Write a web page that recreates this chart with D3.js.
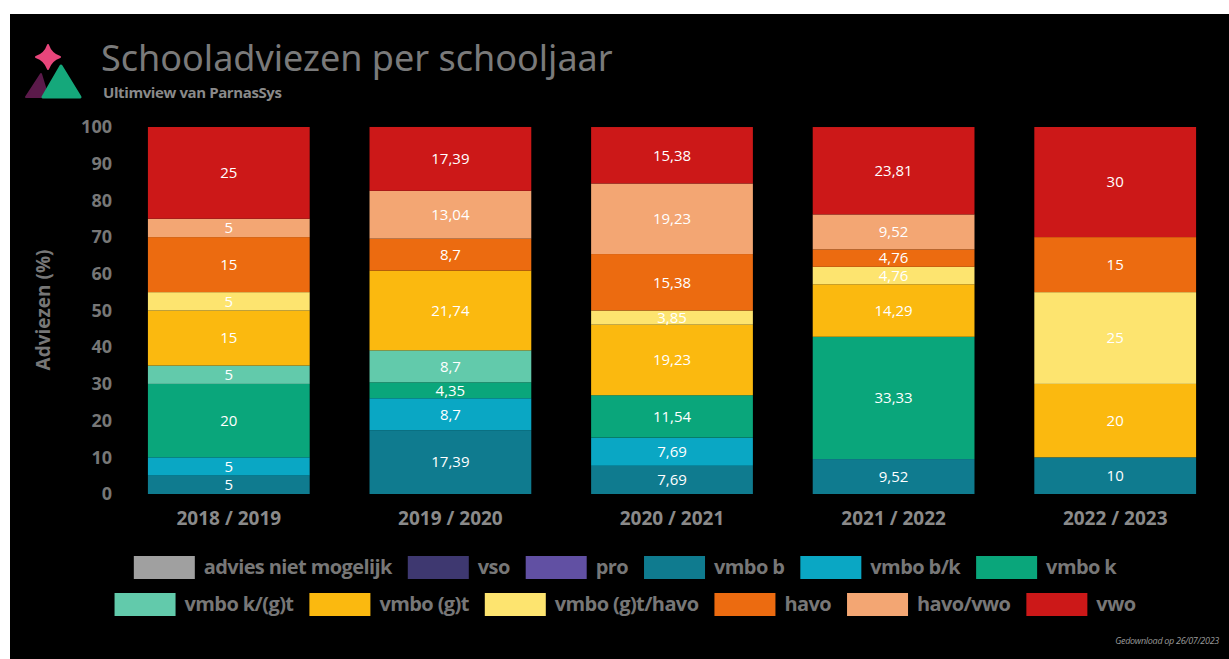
<!DOCTYPE html>
<html lang="nl">
<head>
<meta charset="UTF-8">
<title>Schooladviezen per schooljaar</title>
<script src="https://d3js.org/d3.v7.min.js"></script>
<style>
  html, body { margin: 0; padding: 0; background: #fff; }
  svg { display: block; }
  text { font-family: "Open Sans", "Noto Sans", sans-serif; }
</style>
</head>
<body>
<script>
  // schooljaren
  var years = ["2018 / 2019", "2019 / 2020", "2020 / 2021", "2021 / 2022", "2022 / 2023"];

  // adviestypen, van onder naar boven gestapeld
  var categories = ["advies niet mogelijk", "vso", "pro", "vmbo b", "vmbo b/k", "vmbo k",
                    "vmbo k/(g)t", "vmbo (g)t", "vmbo (g)t/havo", "havo", "havo/vwo", "vwo"];
  var colors = ["#a0a0a0", "#3e3870", "#6150a3", "#0f7b8f", "#0aa7c4", "#0aa67b",
                "#62caab", "#fbb90f", "#fde46f", "#ec6b10", "#f3a673", "#cc1818"];

  // percentages per jaar, zelfde volgorde als categories
  var v2018 = [0, 0, 0, 5, 5, 20, 5, 15, 5, 15, 5, 25];
  var v2019 = [0, 0, 0, 17.39, 8.7, 4.35, 8.7, 21.74, 0, 8.7, 13.04, 17.39];
  var v2020 = [0, 0, 0, 7.69, 7.69, 11.54, 0, 19.23, 3.85, 15.38, 19.23, 15.38];
  var v2021 = [0, 0, 0, 9.52, 0, 33.33, 0, 14.29, 4.76, 4.76, 9.52, 23.81];
  var v2022 = [0, 0, 0, 10, 0, 0, 0, 20, 25, 15, 0, 30];
  var values = [v2018, v2019, v2020, v2021, v2022];

  var yTicks = [0, 10, 20, 30, 40, 50, 60, 70, 80, 90, 100];

  var W = 1229, H = 659;
  var svg = d3.select("body").append("svg").attr("width", W).attr("height", H);

  // zwart paneel
  svg.append("rect").attr("x", 10).attr("y", 14).attr("width", W - 10).attr("height", H - 14)
    .attr("fill", "#000");

  // logo
  var logo = svg.append("g");
  logo.append("path").attr("d", "M26,97 L41,74 L48,97 Z").attr("fill", "#5b1a4a")
    .attr("stroke", "#5b1a4a").attr("stroke-width", 2).attr("stroke-linejoin", "round");
  logo.append("path").attr("d", "M43,97 L61,66 L80,97 Z").attr("fill", "#15a87b")
    .attr("stroke", "#15a87b").attr("stroke-width", 3).attr("stroke-linejoin", "round");
  logo.append("path").attr("d", "M48,45 Q51,54 60,57 Q51,60 48,69 Q45,60 36,57 Q45,54 48,45 Z")
    .attr("fill", "#e8467b").attr("stroke", "#e8467b").attr("stroke-width", 2)
    .attr("stroke-linejoin", "round");

  svg.append("text").attr("x", 101).attr("y", 71)
    .attr("fill", "#7a7a7a").style("font-size", "36px").style("font-family", "'Noto Sans', sans-serif")
    .text("Schooladviezen per schooljaar");
  svg.append("text").attr("x", 103).attr("y", 98)
    .attr("fill", "#8a8a8a").style("font-size", "15px").style("font-weight", "bold")
    .style("letter-spacing", "-0.4px")
    .text("Ultimview van ParnasSys");

  // schalen
  var x = d3.scaleBand().domain(years).range([118, 1226]).paddingInner(0.27).paddingOuter(0.135);
  var y = d3.scaleLinear().domain([0, 100]).range([494, 127]);

  // y-as
  var yAxis = svg.append("g").attr("transform", "translate(112,0)")
    .call(d3.axisLeft(y).tickValues(yTicks).tickSize(0).tickPadding(0));
  yAxis.select(".domain").remove();
  yAxis.selectAll("text").attr("fill", "#777").style("font-size", "18px").style("font-weight", "bold")
    .style("font-family", "'Open Sans', sans-serif");

  svg.append("text").attr("transform", "translate(50,310) rotate(-90)")
    .attr("text-anchor", "middle").attr("fill", "#777")
    .style("font-size", "19px").style("font-weight", "bold")
    .text("Adviezen (%)");

  // x-as
  var xAxis = svg.append("g").attr("transform", "translate(0,508)")
    .call(d3.axisBottom(x).tickSize(0).tickPadding(0));
  xAxis.select(".domain").remove();
  xAxis.selectAll("text").attr("fill", "#8a8a8a").attr("dy", "0.9em")
    .style("font-size", "19px").style("font-weight", "bold")
    .style("font-family", "'Open Sans', sans-serif");

  // gestapelde data
  var rows = years.map(function (yr, i) {
    var r = { year: yr };
    categories.forEach(function (c, j) { r[c] = values[i][j]; });
    return r;
  });
  var series = d3.stack().keys(categories)(rows);
  var color = d3.scaleOrdinal().domain(categories).range(colors);
  var fmt = function (v) { return String(v).replace(".", ","); };

  var layer = svg.append("g").selectAll("g").data(series).enter().append("g")
    .attr("fill", function (d) { return color(d.key); });

  layer.selectAll("rect").data(function (d) { return d.filter(function (s) { return s[1] - s[0] > 0; }); })
    .enter().append("rect")
    .attr("x", function (d) { return x(d.data.year); })
    .attr("width", x.bandwidth())
    .attr("y", function (d) { return y(d[1]); })
    .attr("height", function (d) { return y(d[0]) - y(d[1]); });

  layer.selectAll("text").data(function (d) {
      return d.filter(function (s) { return s[1] - s[0] > 0; });
    })
    .enter().append("text")
    .attr("x", function (d) { return x(d.data.year) + x.bandwidth() / 2; })
    .attr("y", function (d) { return (y(d[0]) + y(d[1])) / 2; })
    .attr("dy", "0.36em")
    .attr("text-anchor", "middle")
    .attr("fill", "#fff")
    .style("font-size", "15px")
    .text(function (d) { return fmt(+(d[1] - d[0]).toFixed(2)); });

  // legenda in twee rijen, gecentreerd
  var legendRows = [categories.slice(0, 6), categories.slice(6)];
  var rowY = [567, 604];
  legendRows.forEach(function (keys, ri) {
    var g = svg.append("g");
    var cx = 0;
    keys.forEach(function (k) {
      g.append("rect").attr("x", cx).attr("y", rowY[ri] - 11).attr("width", 61).attr("height", 23)
        .attr("fill", color(k));
      var t = g.append("text").attr("x", cx + 70).attr("y", rowY[ri]).attr("dy", "0.35em")
        .attr("fill", "#777").style("font-size", "20px").style("font-weight", "bold")
        .style("letter-spacing", "-0.6px")
        .text(k);
      cx += 70 + t.node().getComputedTextLength() + 16;
    });
    var total = cx - 16;
    g.attr("transform", "translate(" + (625 - total / 2) + ",0)");
  });

  svg.append("text").attr("x", 1219).attr("y", 644).attr("text-anchor", "end")
    .attr("fill", "#9a9a9a").style("font-size", "9px").style("font-style", "italic")
    .style("letter-spacing", "-0.3px")
    .text("Gedownload op 26/07/2023");
</script>
</body>
</html>
